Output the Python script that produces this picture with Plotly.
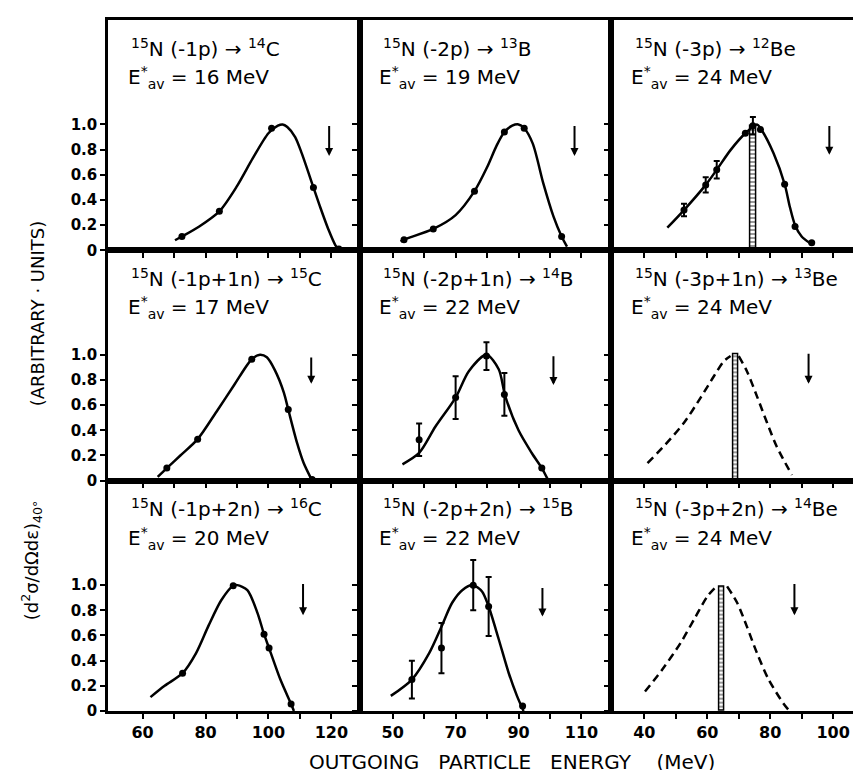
import plotly.graph_objects as go
from plotly.subplots import make_subplots

FONT = "DejaVu Sans"

# ---------------- text ----------------
reactions = [
    "<sup>15</sup>N (-1p) → <sup>14</sup>C",
    "<sup>15</sup>N (-2p) → <sup>13</sup>B",
    "<sup>15</sup>N (-3p) → <sup>12</sup>Be",
    "<sup>15</sup>N (-1p+1n) → <sup>15</sup>C",
    "<sup>15</sup>N (-2p+1n) → <sup>14</sup>B",
    "<sup>15</sup>N (-3p+1n) → <sup>13</sup>Be",
    "<sup>15</sup>N (-1p+2n) → <sup>16</sup>C",
    "<sup>15</sup>N (-2p+2n) → <sup>15</sup>B",
    "<sup>15</sup>N (-3p+2n) → <sup>14</sup>Be",
]
e_av = [16, 19, 24, 17, 22, 24, 20, 22, 24]

# ---------------- axes ----------------
x_ranges = [[49, 129], [39.5, 119.5], [29.5, 109.5]]
x_tickvals = [[60, 70, 80, 90, 100, 110, 120],
              [50, 60, 70, 80, 90, 100, 110],
              [40, 50, 60, 70, 80, 90, 100]]
x_ticktext = [["60", "", "80", "", "100", "", "120"],
              ["50", "", "70", "", "90", "", "110"],
              ["40", "", "60", "", "80", "", "100"]]
y_tickvals = [0, 0.2, 0.4, 0.6, 0.8, 1.0]
y_ticktext = ["0", "0.2", "0.4", "0.6", "0.8", "1.0"]
y_range = [0, 1.83]

# ---------------- curves ----------------
c1_x = [70.3, 72.5, 78, 84.4, 90, 95, 100, 103, 104.5, 106, 108.5, 110.6, 114.3, 116.5, 119, 121.3, 122.6]
c1_y = [0.08, 0.11, 0.19, 0.31, 0.51, 0.73, 0.93, 0.99, 1.0, 0.98, 0.9, 0.77, 0.5, 0.34, 0.17, 0.04, 0.0]

c2_x = [52.5, 53.6, 62.9, 70, 76.0, 80, 83, 85.5, 88, 90, 91.8, 94.5, 97.9, 101.1, 103.7, 105.4]
c2_y = [0.07, 0.085, 0.17, 0.28, 0.47, 0.66, 0.83, 0.94, 0.99, 1.0, 0.97, 0.85, 0.53, 0.27, 0.11, 0.03]

c3_x = [47.3, 52.6, 59.5, 63.0, 67.5, 72.1, 75.8, 76.9, 81.1, 84.6, 86.3, 87.9, 90, 92.5]
c3_y = [0.18, 0.32, 0.52, 0.64, 0.8, 0.93, 1.0, 0.97, 0.77, 0.525, 0.34, 0.2, 0.11, 0.06]

c4_x = [64.8, 67.7, 72, 77.5, 83.8, 89.1, 94.7, 97.3, 99.5, 102, 104.9, 106.3, 109.1, 111.2, 113.9]
c4_y = [0.03, 0.10, 0.2, 0.33, 0.56, 0.76, 0.965, 1.0, 0.98, 0.88, 0.70, 0.565, 0.30, 0.14, 0.0]

c5_x = [53.1, 58.4, 63.6, 70, 74.2, 79.8, 83.7, 85.8, 90, 94.2, 97.4, 99.5]
c5_y = [0.13, 0.22, 0.43, 0.66, 0.87, 1.0, 0.885, 0.67, 0.4, 0.22, 0.1, 0.0]

c6_x = [41, 46.8, 52.6, 57.9, 62.1, 65.3, 67.4, None, 70, 72.6, 75.8, 79, 82.1, 86.9]
c6_y = [0.14, 0.29, 0.46, 0.66, 0.83, 0.95, 0.99, None, 0.99, 0.87, 0.67, 0.46, 0.27, 0.045]

c7_x = [62.5, 67, 72.7, 77, 81, 85, 88.8, 90.1, 93.3, 96.5, 98.6, 100.2, 103.8, 107.2, 108.1]
c7_y = [0.11, 0.2, 0.30, 0.46, 0.68, 0.88, 0.995, 1.0, 0.96, 0.78, 0.61, 0.50, 0.25, 0.055, 0.0]

c8_x = [49.4, 56.1, 61.6, 65.5, 68.9, 72.1, 75.5, 78.4, 80.5, 83.7, 86.9, 89.5, 91.6]
c8_y = [0.12, 0.25, 0.46, 0.67, 0.86, 0.96, 1.0, 0.95, 0.83, 0.57, 0.30, 0.12, 0.0]

c9_x = [40.2, 45.7, 51.5, 56.3, 60, 63.1, None, 66.3, 69.5, 72.6, 75.8, 79.5, 84.2, 85.8]
c9_y = [0.155, 0.33, 0.54, 0.75, 0.91, 0.995, None, 0.99, 0.86, 0.67, 0.46, 0.25, 0.06, 0.01]

curves_x = [c1_x, c2_x, c3_x, c4_x, c5_x, c6_x, c7_x, c8_x, c9_x]
curves_y = [c1_y, c2_y, c3_y, c4_y, c5_y, c6_y, c7_y, c8_y, c9_y]
curve_dashed = [False, False, False, False, False, True, False, False, True]

# ---------------- data points ----------------
p1_x = [72.5, 84.4, 101, 114.3, 122.4]
p1_y = [0.11, 0.31, 0.97, 0.50, 0.01]
p1_e = [None, None, None, None, None]

p2_x = [53.6, 62.9, 76.0, 85.5, 91.8, 103.7]
p2_y = [0.085, 0.17, 0.47, 0.94, 0.97, 0.11]
p2_e = [None] * 6

p3_x = [52.6, 59.5, 63.0, 72.1, 74.5, 76.9, 84.6, 87.9, 93.2]
p3_y = [0.32, 0.52, 0.64, 0.93, 0.99, 0.96, 0.525, 0.19, 0.06]
p3_e = [0.05, 0.06, 0.07, None, 0.07, None, None, None, None]

p4_x = [67.7, 77.5, 94.7, 106.3, 113.9]
p4_y = [0.10, 0.33, 0.965, 0.565, 0.01]
p4_e = [None] * 5

p5_x = [58.4, 70, 79.8, 85.5, 97.4]
p5_y = [0.325, 0.66, 0.99, 0.685, 0.10]
p5_e = [0.13, 0.17, 0.11, 0.17, None]

p6_x, p6_y, p6_e = [], [], []

p7_x = [72.7, 88.8, 98.6, 100.2, 107.2]
p7_y = [0.30, 0.995, 0.61, 0.50, 0.055]
p7_e = [None] * 5

p8_x = [56.1, 65.5, 75.6, 80.5, 91.3]
p8_y = [0.25, 0.50, 1.0, 0.83, 0.04]
p8_e = [0.15, 0.2, 0.2, 0.235, None]

p9_x, p9_y, p9_e = [], [], []

pts_x = [p1_x, p2_x, p3_x, p4_x, p5_x, p6_x, p7_x, p8_x, p9_x]
pts_y = [p1_y, p2_y, p3_y, p4_y, p5_y, p6_y, p7_y, p8_y, p9_y]
pts_e = [p1_e, p2_e, p3_e, p4_e, p5_e, p6_e, p7_e, p8_e, p9_e]

# ---------------- hatched bars (column 3) ----------------
bar_panel = [3, 6, 9]
bar_x = [74.65, 69.2, 64.6]
bar_w = [1.9, 1.6, 1.8]
bar_h = [0.99, 1.0, 0.99]

# ---------------- arrows ----------------
arrow_x = [119.3, 107.8, 98.8, 113.6, 101.1, 92.2, 111.0, 97.6, 87.7]
arrow_top = [1.0, 1.0, 1.0, 0.99, 1.0, 1.02, 1.02, 0.99, 1.02]
arrow_bot = [0.75, 0.75, 0.76, 0.77, 0.76, 0.77, 0.76, 0.75, 0.76]

fig = make_subplots(rows=3, cols=3, horizontal_spacing=0, vertical_spacing=0)

for i in range(9):
    r, c = i // 3 + 1, i % 3 + 1
    fig.add_trace(go.Scatter(
        x=curves_x[i], y=curves_y[i], mode="lines", line_shape="spline",
        connectgaps=False,
        line=dict(color="black", width=2.5, smoothing=0.8,
                  dash="8px,5px" if curve_dashed[i] else "solid"),
        showlegend=False, hoverinfo="skip"), row=r, col=c)
    if pts_x[i]:
        has_err = any(e is not None for e in pts_e[i])
        fig.add_trace(go.Scatter(
            x=pts_x[i], y=pts_y[i], mode="markers",
            marker=dict(color="black", size=7),
            error_y=dict(type="data", array=pts_e[i], visible=has_err,
                         color="black", thickness=2, width=3),
            showlegend=False), row=r, col=c)

for k, p in enumerate(bar_panel):
    r, c = (p - 1) // 3 + 1, (p - 1) % 3 + 1
    fig.add_trace(go.Bar(
        x=[bar_x[k]], y=[bar_h[k]], width=[bar_w[k]],
        marker=dict(color="white", line=dict(color="black", width=1.5),
                    pattern=dict(shape="-", size=4, fgcolor="black", solidity=0.4)),
        showlegend=False), row=r, col=c)

for i in range(9):
    r, c = i // 3 + 1, i % 3 + 1
    n = i + 1
    xa = "x" if n == 1 else f"x{n}"
    ya = "y" if n == 1 else f"y{n}"
    fig.add_annotation(x=arrow_x[i], y=arrow_bot[i], ax=arrow_x[i], ay=arrow_top[i],
                       xref=xa, yref=ya, axref=xa, ayref=ya, text="",
                       showarrow=True, arrowhead=2, arrowsize=0.8, arrowwidth=2,
                       arrowcolor="black")
    fig.add_annotation(x=0.085, y=0.88, xref=f"{xa} domain", yref=f"{ya} domain",
                       text=reactions[i], showarrow=False, xanchor="left", yanchor="middle",
                       font=dict(family=FONT, size=20, color="black"))
    fig.add_annotation(x=0.07, y=0.75, xref=f"{xa} domain", yref=f"{ya} domain",
                       text=f"E<sup>*</sup><sub>av</sub> = {e_av[i]} MeV", showarrow=False,
                       xanchor="left", yanchor="middle",
                       font=dict(family=FONT, size=20, color="black"))

    fig.update_xaxes(row=r, col=c, range=x_ranges[c - 1], tickvals=x_tickvals[c - 1],
                     ticktext=x_ticktext[c - 1], showticklabels=(r == 3),
                     ticks="outside", ticklen=5, tickwidth=2, tickcolor="black",
                     showline=True, linewidth=2.5, linecolor="black", mirror=True,
                     showgrid=False, zeroline=False,
                     tickfont=dict(family="DejaVu Sans", size=16, color="black", weight="bold"))
    fig.update_yaxes(row=r, col=c, range=y_range, tickvals=y_tickvals,
                     ticktext=y_ticktext, showticklabels=(c == 1),
                     ticks="outside", ticklen=5, tickwidth=2, tickcolor="black",
                     showline=True, linewidth=2.5, linecolor="black", mirror=True,
                     showgrid=False, zeroline=False,
                     tickfont=dict(family="DejaVu Sans", size=15, color="black", weight="bold"))

W, H = 861, 770
ml, mr, mt, mb = 100, 3, 12, 67
pw, ph = W - ml - mr, H - mt - mb
def px(xp): return (xp - ml) / pw
def py(yp): return (H - mb - yp) / ph

nb = "\u00a0"
fig.add_annotation(x=px(506), y=py(768), xref="paper", yref="paper",
                   xanchor="center", yanchor="bottom",
                   text=f"OUTGOING{nb*3}PARTICLE{nb*3}ENERGY{nb*4}(MeV)",
                   showarrow=False, font=dict(family=FONT, size=20, color="black"))
fig.add_annotation(text=f"(ARBITRARY{nb}·{nb}UNITS)", textangle=-90, showarrow=False,
                   xref="paper", yref="paper", x=px(29), y=py(305),
                   xanchor="center", yanchor="middle",
                   font=dict(family=FONT, size=18, color="black"))
fig.add_annotation(text="(d<sup>2</sup>σ/dΩdε)<sub>40°</sub>", textangle=-90, showarrow=False,
                   xref="paper", yref="paper", x=px(23), y=py(552),
                   xanchor="center", yanchor="middle",
                   font=dict(family=FONT, size=18, color="black"))

fig.update_layout(width=W, height=H, margin=dict(l=ml, r=mr, t=mt, b=mb),
                  paper_bgcolor="white", plot_bgcolor="white", bargap=0)
fig.write_html("out.html")
